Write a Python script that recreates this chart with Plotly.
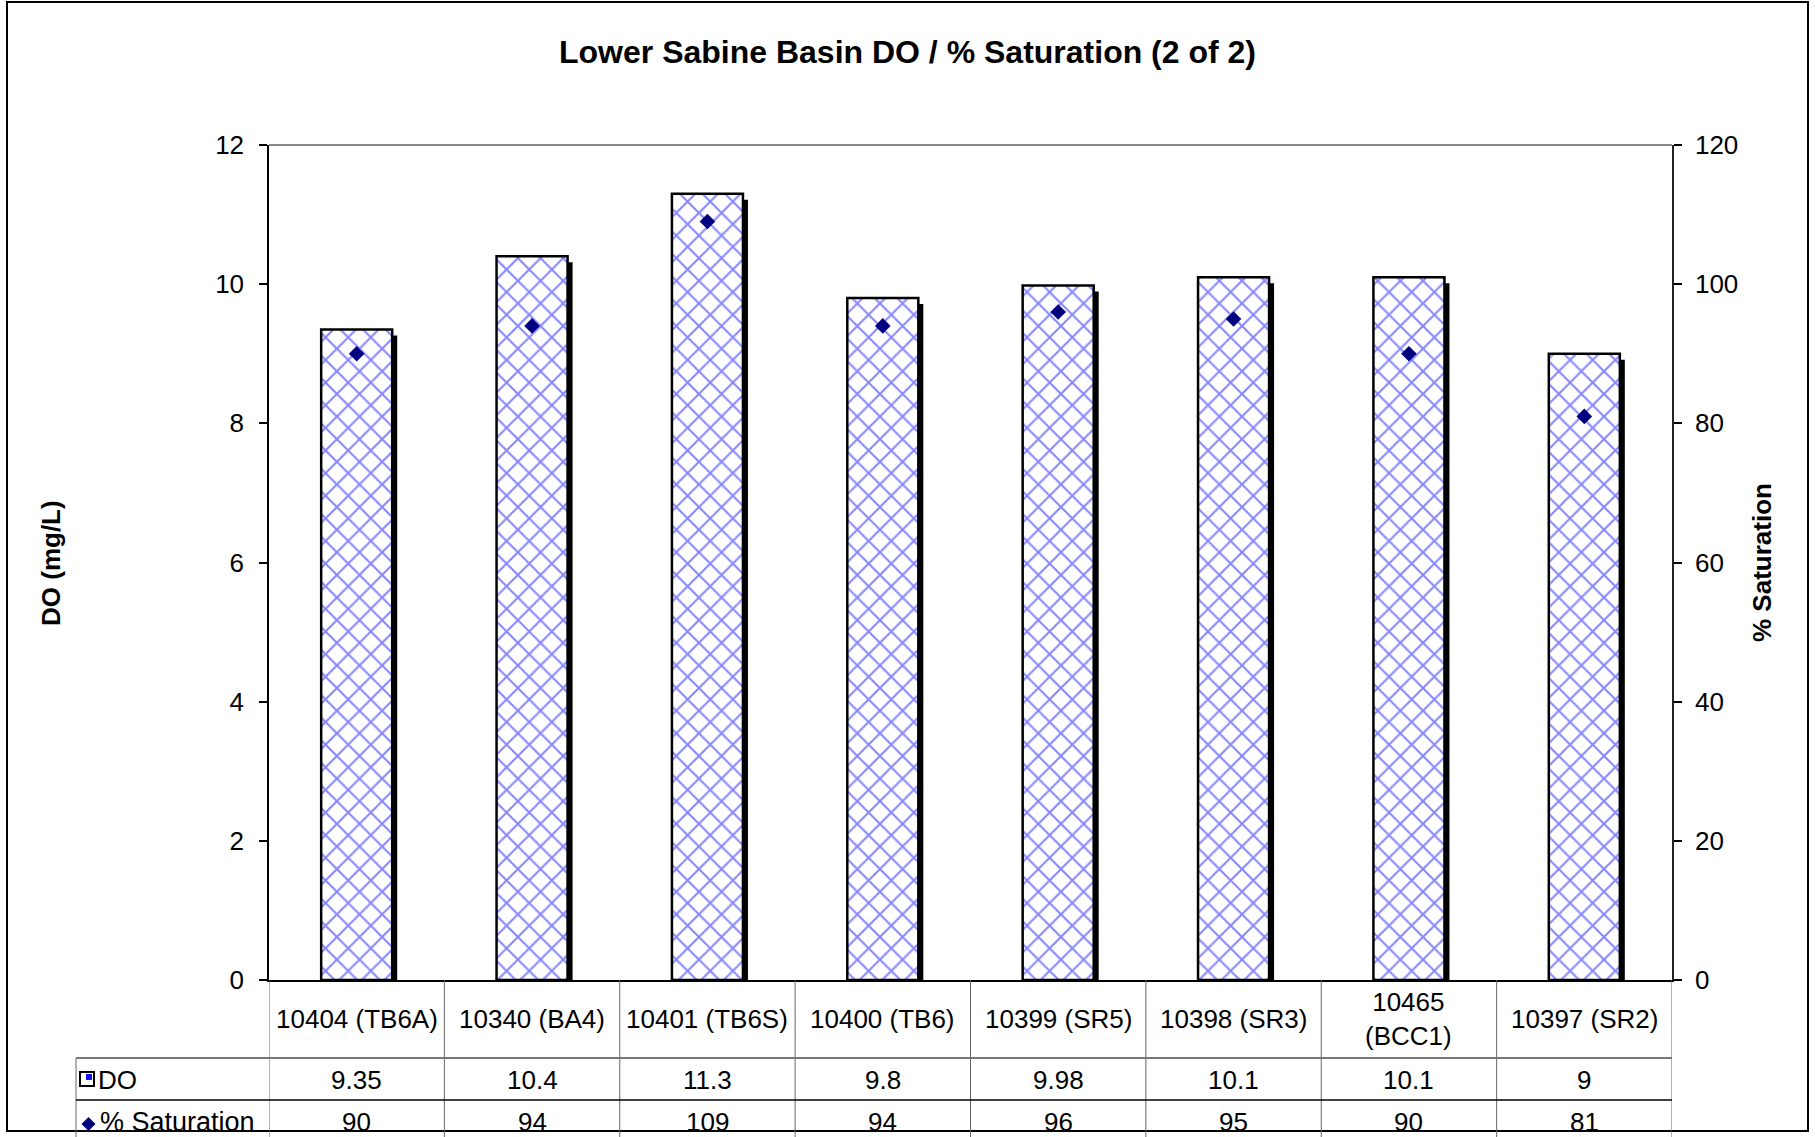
import plotly.graph_objects as go

# ---------------- data ----------------
categories = ["10404 (TB6A)", "10340 (BA4)", "10401 (TB6S)", "10400 (TB6)",
              "10399 (SR5)", "10398 (SR3)", "10465<br>(BCC1)", "10397 (SR2)"]
do_values = [9.35, 10.4, 11.3, 9.8, 9.98, 10.1, 10.1, 9]
sat_values = [90, 94, 109, 94, 96, 95, 90, 81]
left_ticks = [0, 2, 4, 6, 8, 10, 12]
right_ticks = [0, 20, 40, 60, 80, 100, 120]

# ---------------- layout geometry (pixels) ----------------
W, H = 1815, 1137
L, R, T, B = 269, 1672, 145, 980
FONT = "Arial, Liberation Sans, sans-serif"
n = len(categories)


def px(x):
    return (x - L) / (R - L)


def py(y):
    return (B - y) / (B - T)


bar_width = 0.405
shadow_dx = 5 * n / (R - L)
shadow_dy = 6 * 12 / (B - T)

fig = go.Figure()

# shadow of bars
fig.add_trace(go.Bar(
    x=categories, y=do_values, base=-shadow_dy,
    width=bar_width, offset=-bar_width / 2 + shadow_dx,
    marker=dict(color="black", line=dict(width=0)),
    hoverinfo="skip", showlegend=False))

# DO bars
fig.add_trace(go.Bar(
    x=categories, y=do_values, name="DO",
    width=bar_width, offset=-bar_width / 2,
    marker=dict(color="white", line=dict(color="black", width=2.5),
                pattern=dict(shape="x", fgcolor="#1010ff", bgcolor="white",
                             size=16, solidity=0.24)),
    showlegend=False))

# % saturation markers
fig.add_trace(go.Scatter(
    x=categories, y=sat_values, yaxis="y2", mode="markers", name="% Saturation",
    marker=dict(symbol="diamond", size=12, color="#000080"),
    showlegend=False))

axis_common = dict(showgrid=False, zeroline=False, ticks="outside", ticklen=8,
                   tickwidth=1.5, tickcolor="black",
                   tickfont=dict(family=FONT, size=26, color="black"))

fig.update_layout(
    width=W, height=H,
    margin=dict(l=L, r=W - R, t=T, b=H - B, pad=0),
    paper_bgcolor="white", plot_bgcolor="white",
    barmode="overlay",
    showlegend=False,
    title=dict(text="<b>Lower Sabine Basin DO / % Saturation (2 of 2)</b>",
               x=0.5, xref="container", xanchor="center",
               y=1 - 52 / H, yref="container", yanchor="middle",
               font=dict(family=FONT, size=32, color="black")),
    xaxis=dict(type="category", range=[-0.5, n - 0.5], showticklabels=False,
               ticks="", showline=True, linecolor="black", linewidth=1.5,
               showgrid=False, zeroline=False),
    yaxis=dict(range=[0, 12], tickvals=left_ticks, showline=True,
               linecolor="black", linewidth=1.5, ticklabelstandoff=10,
               **axis_common),
    yaxis2=dict(range=[0, 120], tickvals=right_ticks, overlaying="y",
                side="right", anchor="x", showline=True, linecolor="#222222",
                linewidth=1.5, ticklabelstandoff=8, **axis_common),
    yaxis3=dict(range=[0, 12], tickvals=left_ticks, overlaying="y",
                side="left", anchor="x", showline=False, showgrid=False,
                zeroline=False, ticks="inside", ticklen=8, tickwidth=1.5,
                tickcolor="black", showticklabels=False),
    yaxis4=dict(range=[0, 120], tickvals=right_ticks, overlaying="y",
                side="right", anchor="x", showline=False, showgrid=False,
                zeroline=False, ticks="inside", ticklen=8, tickwidth=1.5,
                tickcolor="black", showticklabels=False),
)

shapes = []
# outer chart border
shapes.append(dict(type="rect", xref="paper", yref="paper",
                   x0=px(7), x1=px(1808), y0=py(1131), y1=py(2),
                   line=dict(color="black", width=2), fillcolor="rgba(0,0,0,0)"))
# plot area top line
shapes.append(dict(type="line", xref="paper", yref="paper",
                   x0=0, x1=1, y0=1, y1=1, line=dict(color="#888888", width=2)))
# table: vertical lines at category boundaries
for i in range(n + 1):
    shapes.append(dict(type="line", xref="x", yref="paper",
                       x0=i - 0.5, x1=i - 0.5, y0=py(B), y1=py(H + 5),
                       line=dict(color="#666666", width=1)))
# table: left border of the legend column
shapes.append(dict(type="line", xref="paper", yref="paper",
                   x0=px(76), x1=px(76), y0=py(1058), y1=py(H + 5),
                   line=dict(color="#666666", width=1)))
# table: horizontal row lines
shapes.append(dict(type="line", xref="paper", yref="paper",
                   x0=px(76), x1=1, y0=py(1058), y1=py(1058),
                   line=dict(color="#777777", width=2)))
shapes.append(dict(type="line", xref="paper", yref="paper",
                   x0=px(76), x1=1, y0=py(1100), y1=py(1100),
                   line=dict(color="black", width=1.5)))
# legend key: DO (patterned square)
shapes.append(dict(type="rect", xref="paper", yref="paper",
                   x0=px(80), x1=px(94), y0=py(1086), y1=py(1072),
                   line=dict(color="black", width=2), fillcolor="white"))
shapes.append(dict(type="rect", xref="paper", yref="paper",
                   x0=px(86), x1=px(92), y0=py(1080), y1=py(1074),
                   line=dict(width=0), fillcolor="#1010ff"))
# legend key: % saturation (diamond)
cx, cy, hw = 88.5, 1124, 7
shapes.append(dict(type="path", xref="paper", yref="paper",
                   path=(f"M {px(cx - hw)} {py(cy)} L {px(cx)} {py(cy - hw)} "
                         f"L {px(cx + hw)} {py(cy)} L {px(cx)} {py(cy + hw)} Z"),
                   line=dict(width=0), fillcolor="#000080"))
fig.update_layout(shapes=shapes)

ann = []
txt = dict(family=FONT, size=26, color="black")
for i, cat in enumerate(categories):
    ann.append(dict(x=i, y=py(1019), xref="x", yref="paper", text=cat,
                    showarrow=False, xanchor="center", yanchor="middle", font=txt))
    ann.append(dict(x=i, y=py(1080), xref="x", yref="paper",
                    text=f"{do_values[i]:g}", showarrow=False,
                    xanchor="center", yanchor="middle", font=txt))
    ann.append(dict(x=i, y=py(1122), xref="x", yref="paper",
                    text=f"{sat_values[i]:g}", showarrow=False,
                    xanchor="center", yanchor="middle", font=txt))
ann.append(dict(x=px(96), y=py(1080), xref="paper", yref="paper", text="DO",
                showarrow=False, xanchor="left", yanchor="middle", font=txt))
ann.append(dict(x=px(98), y=py(1122), xref="paper", yref="paper",
                text="% Saturation", showarrow=False, xanchor="left",
                yanchor="middle", font=dict(family=FONT, size=27, color="black")))
# axis titles
ann.append(dict(x=px(51), y=py(563), xref="paper", yref="paper",
                text="<b>DO (mg/L)</b>", textangle=-90, showarrow=False,
                xanchor="center", yanchor="middle",
                font=dict(family=FONT, size=26, color="black")))
ann.append(dict(x=px(1762), y=py(563), xref="paper", yref="paper",
                text="<b>% Saturation</b>", textangle=-90, showarrow=False,
                xanchor="center", yanchor="middle",
                font=dict(family=FONT, size=26, color="black")))
fig.update_layout(annotations=ann)

fig.write_html("out.html", config={"displayModeBar": False},
               post_script="document.body.style.margin='0';")
